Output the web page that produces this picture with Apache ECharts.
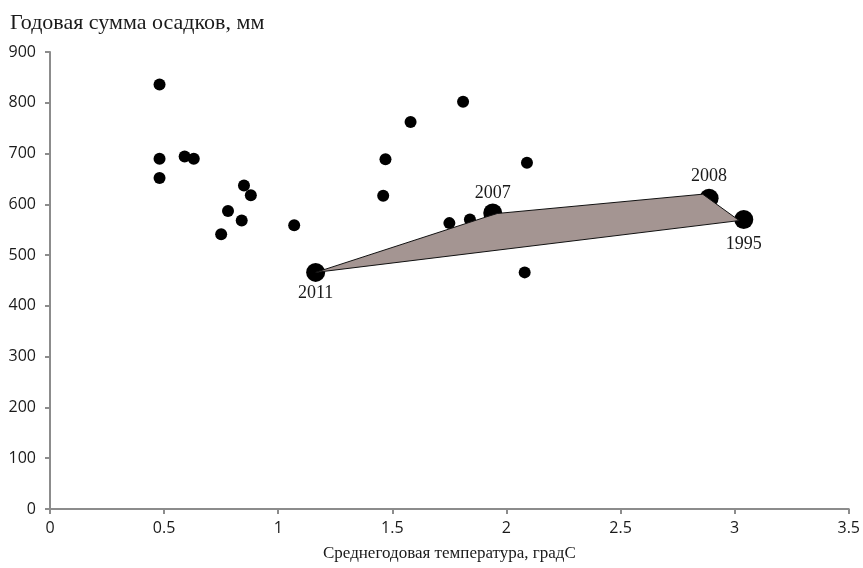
<!DOCTYPE html>
<html>
<head>
<meta charset="utf-8">
<script src="https://cdn.jsdelivr.net/npm/echarts@6/dist/echarts.min.js"></script>
<style>
html,body{margin:0;padding:0;background:#fff;}
#chart{width:863px;height:568px;}
</style>
</head>
<body>
<div id="chart"></div>
<script>
// точки: среднегодовая температура, годовая сумма осадков
var smallPoints = [
	[0.48, 836], [0.48, 690], [0.48, 652], [0.59, 694], [0.63, 690],
	[0.75, 541], [0.78, 587], [0.84, 568], [0.85, 637], [0.88, 618],
	[1.07, 559], [1.46, 617], [1.47, 689], [1.58, 762], [1.81, 802],
	[1.75, 563], [1.84, 570], [2.08, 466], [2.09, 682]
];
// выделенные годы
var bigYears = ['2011', '2007', '2008', '1995'];
var bigPoints = [[1.164, 466], [1.94, 583], [2.888, 612], [3.04, 570]];
// контур многоугольника
var polygon = [[1.164, 466], [1.91, 575], [1.96, 582], [2.86, 620], [3.02, 568]];
var labelPos = ['bottom', 'top', 'top', 'bottom'];
var labelGap = [2, 1, 3, 6];

var chart = echarts.init(document.getElementById('chart'));

var serif = '"Liberation Serif", "DejaVu Serif", serif';
var sans = '"Open Sans", "Liberation Sans", sans-serif';

chart.setOption({
	backgroundColor: '#fff',
	animation: false,
	title: {
		text: 'Годовая сумма осадков, мм',
		left: 5, top: 7,
		textStyle: {fontFamily: serif, fontSize: 22, fontWeight: 'normal', color: '#1a1a1a'}
	},
	grid: {left: 50, right: 14, top: 52, bottom: 59},
	xAxis: {
		type: 'value', min: 0, max: 3.5, interval: 0.5,
		name: 'Среднегодовая температура, градС',
		nameLocation: 'middle', nameGap: 36,
		nameTextStyle: {fontFamily: serif, fontSize: 17, color: '#1a1a1a'},
		axisLine: {show: true, lineStyle: {color: '#8c8c8c', width: 2}},
		axisTick: {show: true, length: 5, lineStyle: {color: '#8c8c8c', width: 2}},
		axisLabel: {fontFamily: sans, fontSize: 16, color: '#1a1a1a', margin: 11},
		splitLine: {show: false}
	},
	yAxis: {
		type: 'value', min: 0, max: 900, interval: 100,
		axisLine: {show: true, lineStyle: {color: '#8c8c8c', width: 2}},
		axisTick: {show: true, length: 5, lineStyle: {color: '#8c8c8c', width: 2}},
		axisLabel: {fontFamily: sans, fontSize: 16, color: '#1a1a1a', margin: 14},
		splitLine: {show: false}
	},
	series: [
		{
			type: 'scatter', data: smallPoints, symbolSize: 12, z: 2,
			itemStyle: {color: '#000', opacity: 1}
		},
		{
			type: 'scatter', symbolSize: 19, z: 3,
			data: bigPoints.map(function(p, i){
				return {
					value: p,
					label: {
						show: true, formatter: bigYears[i], position: labelPos[i], distance: labelGap[i],
						fontFamily: serif, fontSize: 18, color: '#1a1a1a'
					}
				};
			}),
			itemStyle: {color: '#000', opacity: 1}
		},
		{
			type: 'custom', z: 4,
			data: [0],
			renderItem: function(params, api){
				var pts = polygon.map(function(p){ return api.coord(p); });
				return {
					type: 'polygon',
					shape: {points: pts},
					style: {fill: '#a49592', stroke: '#111', lineWidth: 1}
				};
			}
		}
	]
});
</script>
</body>
</html>
